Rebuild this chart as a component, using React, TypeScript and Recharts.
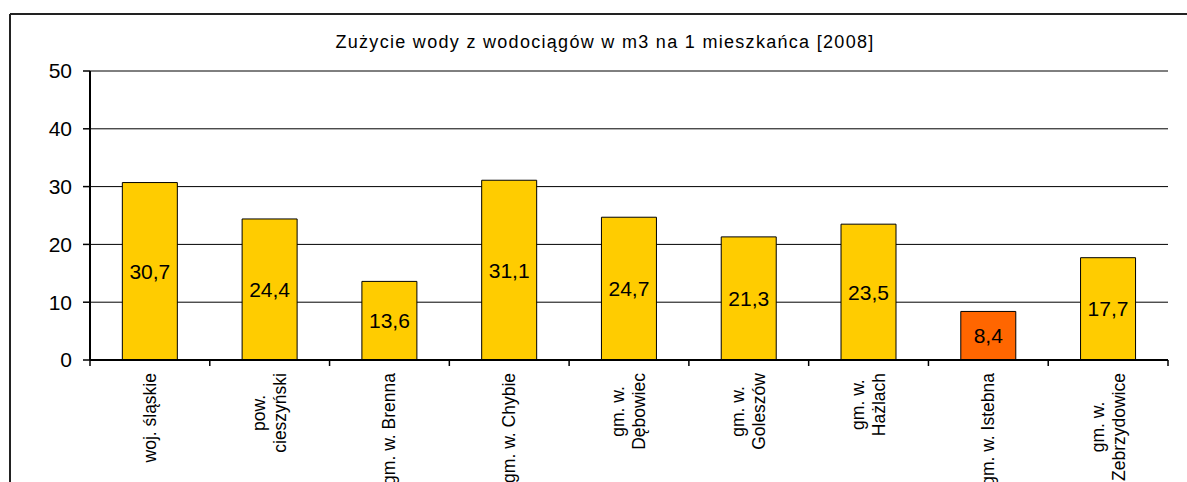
import { BarChart, Bar, XAxis, YAxis, CartesianGrid, Cell, LabelList } from "recharts";

const categories = [
  "woj. śląskie",
  "pow.\ncieszyński",
  "gm. w. Brenna",
  "gm. w. Chybie",
  "gm. w.\nDębowiec",
  "gm. w.\nGoleszów",
  "gm. w.\nHażlach",
  "gm. w. Istebna",
  "gm. w.\nZebrzydowice",
];
const values = [30.7, 24.4, 13.6, 31.1, 24.7, 21.3, 23.5, 8.4, 17.7];
const yTicks = [0, 10, 20, 30, 40, 50];
const highlighted = "gm. w. Istebna";
const title = "Zużycie wody z wodociągów w m3 na 1 mieszkańca [2008]";

const data = categories.map((name, i) => ({ name, value: values[i] }));

const W = 1187;
const H = 482;
const PLOT_LEFT = 90;
const PLOT_RIGHT = 1168;
const PLOT_TOP = 71;
const X_AXIS_H = 122;
const BAND = (PLOT_RIGHT - PLOT_LEFT) / categories.length;
const FONT = '"Liberation Sans", Arial, sans-serif';
const CAT_SIZE = 17.5;
const LINE_GAP = 21;

let ctx: CanvasRenderingContext2D | null = null;
function textWidth(s: string) {
  if (!ctx) {
    ctx = document.createElement("canvas").getContext("2d");
  }
  if (!ctx) return s.length * CAT_SIZE * 0.5;
  ctx.font = `${CAT_SIZE}px "Liberation Sans"`;
  return ctx.measureText(s).width;
}

function CategoryTick(props: any) {
  const { x, y, payload, index } = props;
  const lines = String(payload.value).split("\n");
  const longest = Math.max(...lines.map(textWidth));
  const cy = y + 13 + longest / 2;
  return (
    <g>
      <line x1={x - BAND / 2} x2={x - BAND / 2} y1={y} y2={y + 6} stroke="#000" strokeWidth={1.5} />
      {index === categories.length - 1 && (
        <line x1={x + BAND / 2} x2={x + BAND / 2} y1={y} y2={y + 6} stroke="#000" strokeWidth={1.5} />
      )}
      {lines.map((ln, i) => {
        const lx = x + (i - (lines.length - 1) / 2) * LINE_GAP;
        return (
          <text
            key={i}
            x={lx}
            y={cy}
            transform={`rotate(-90, ${lx}, ${cy})`}
            textAnchor="middle"
            dominantBaseline="central"
            fontSize={CAT_SIZE}
            fontFamily={FONT}
            fill="#000"
          >
            {ln}
          </text>
        );
      })}
    </g>
  );
}

export default function App() {
  return (
    <div style={{ position: "absolute", left: 0, top: 0, width: W, height: H, overflow: "hidden", background: "#fff" }}>
      <svg width={W} height={H} style={{ position: "absolute", left: 0, top: 0 }}>
        <line x1={10} x2={W} y1={14} y2={14} stroke="#222" strokeWidth={2} />
        <line x1={10} x2={10} y1={14} y2={H} stroke="#222" strokeWidth={2} />
        <text x={605} y={48} textAnchor="middle" fontSize={18} letterSpacing={1.3} fontFamily={FONT} fill="#000">
          {title}
        </text>
      </svg>
      <div style={{ position: "absolute", left: 0, top: 0 }}>
        <BarChart
          width={W}
          height={H}
          data={data}
          margin={{ top: PLOT_TOP, right: W - PLOT_RIGHT, bottom: 0, left: 0 }}
          barCategoryGap="27%"
        >
          <CartesianGrid vertical={false} stroke="#000" strokeWidth={1} />
          <XAxis
            dataKey="name"
            height={X_AXIS_H}
            interval={0}
            tickSize={0}
            tickMargin={0}
            tickLine={false}
            tick={<CategoryTick />}
            axisLine={{ stroke: "#000", strokeWidth: 2 }}
          />
          <YAxis
            domain={[0, 50]}
            ticks={yTicks}
            width={PLOT_LEFT}
            tickSize={7}
            tickMargin={11}
            tick={{ fill: "#000", fontSize: 21, fontFamily: FONT }}
            tickLine={{ stroke: "#000", strokeWidth: 1.5 }}
            axisLine={{ stroke: "#000", strokeWidth: 2 }}
          />
          <YAxis
            yAxisId="right"
            orientation="right"
            domain={[0, 50]}
            width={0}
            tick={false}
            tickLine={false}
            axisLine={{ stroke: "#000", strokeWidth: 1.5 }}
          />
          <Bar dataKey="value" stroke="#000" strokeWidth={1} isAnimationActive={false}>
            {data.map((d) => (
              <Cell key={d.name} fill={d.name === highlighted ? "#FF6600" : "#FFCC00"} />
            ))}
            <LabelList
              dataKey="value"
              position="center"
              formatter={(v: any) => String(v).replace(".", ",")}
              fill="#000"
              fontSize={21}
              fontFamily={FONT}
            />
          </Bar>
        </BarChart>
      </div>
    </div>
  );
}
